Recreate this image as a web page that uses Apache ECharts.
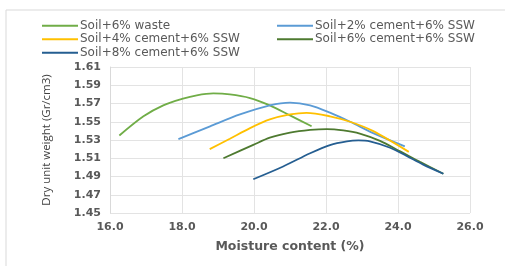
<!DOCTYPE html>
<html>
<head>
<meta charset="utf-8">
<script src="https://cdn.jsdelivr.net/npm/echarts@6/dist/echarts.min.js"></script>
<style>
html, body { margin: 0; padding: 0; background: #fff; }
#chart { width: 505px; height: 266px; }
</style>
</head>
<body>
<div id="chart"></div>
<script>
// moisture content (%) / dry unit weight (Gr/cm3)
var names = ["Soil+6% waste", "Soil+2% cement+6% SSW", "Soil+4% cement+6% SSW", "Soil+6% cement+6% SSW", "Soil+8% cement+6% SSW"];
var colors = ["#70ad47", "#5b9bd5", "#ffc000", "#4e7a30", "#255e91"];

var waste = [[16.26, 1.535], [16.93, 1.556], [17.48, 1.568], [18.0, 1.575], [18.41, 1.579], [18.87, 1.581],
    [19.33, 1.580], [19.89, 1.576], [20.44, 1.568], [21.0, 1.557], [21.6, 1.545]];
var cement2 = [[17.9, 1.531], [18.78, 1.545], [19.61, 1.558], [20.44, 1.568], [21.0, 1.571], [21.56, 1.568],
    [22.11, 1.560], [22.67, 1.550], [23.31, 1.5375], [24.19, 1.523]];
var cement4 = [[18.77, 1.520], [19.33, 1.5314], [19.89, 1.543], [20.44, 1.5525], [21.0, 1.558], [21.46, 1.5598],
    [22.11, 1.556], [22.67, 1.550], [23.3, 1.540], [24.3, 1.517]];
var cement6 = [[19.15, 1.510], [19.98, 1.5246], [20.44, 1.5325], [21.0, 1.538], [21.56, 1.541], [22.02, 1.542],
    [22.48, 1.5405], [22.94, 1.537], [23.5, 1.529], [24.06, 1.5175], [24.61, 1.506], [25.26, 1.493]];
var cement8 = [[19.98, 1.487], [20.81, 1.501], [21.56, 1.5155], [22.11, 1.5245], [22.58, 1.5285], [22.9, 1.5295],
    [23.22, 1.5285], [23.78, 1.5215], [24.24, 1.5125], [24.7, 1.503], [25.26, 1.493]];

var xTicks = { min: 16, max: 26, step: 2 };
var yTicks = { min: 1.45, max: 1.61, step: 0.02 };

var allData = [waste, cement2, cement4, cement6, cement8];

var chart = echarts.init(document.getElementById("chart"));

var labelStyle = { color: "#595959", fontFamily: "DejaVu Sans", fontSize: 11, fontWeight: "bold" };
var legendText = { color: "#595959", fontFamily: "DejaVu Sans", fontSize: 12, lineHeight: 13.5, padding: [0, 0, 0, -3] };

var option = {
    animation: false,
    backgroundColor: "#fff",
    graphic: [{
        type: "rect",
        shape: { x: 6, y: 10, width: 520, height: 280 },
        style: { fill: "none", stroke: "#d9d9d9", lineWidth: 1 }
    }],
    legend: [{
        data: [names[0], names[2], names[4]],
        orient: "vertical",
        left: 42,
        top: 19,
        padding: 0,
        itemWidth: 36,
        itemHeight: 2,
        itemGap: 0,
        icon: "rect",
        textStyle: legendText
    }, {
        data: [names[1], names[3]],
        orient: "vertical",
        left: 277,
        top: 19,
        padding: 0,
        itemWidth: 36,
        itemHeight: 2,
        itemGap: 0,
        icon: "rect",
        textStyle: legendText
    }],
    grid: { left: 110, right: 35, top: 67, bottom: 53 },
    xAxis: {
        type: "value",
        min: xTicks.min,
        max: xTicks.max,
        interval: xTicks.step,
        name: "Moisture content (%)",
        nameLocation: "middle",
        nameGap: 27,
        nameTextStyle: { color: "#595959", fontFamily: "DejaVu Sans", fontSize: 12.5, fontWeight: "bold" },
        axisLine: { show: false },
        axisTick: { show: false },
        axisLabel: Object.assign({ margin: 9, formatter: function (v) { return v.toFixed(1); } }, labelStyle),
        splitLine: { lineStyle: { color: "#e3e3e3" } }
    },
    yAxis: {
        type: "value",
        min: yTicks.min,
        max: yTicks.max,
        interval: yTicks.step,
        name: "Dry unit weight (Gr/cm3)",
        nameLocation: "middle",
        nameGap: 57,
        nameTextStyle: { color: "#404040", fontFamily: "Open Sans", fontSize: 11.5 },
        axisLine: { show: true, lineStyle: { color: "#d9d9d9" } },
        axisTick: { show: false },
        axisLabel: Object.assign({ margin: 9, formatter: function (v) { return v.toFixed(2); } }, labelStyle),
        splitLine: { lineStyle: { color: "#e3e3e3" } }
    },
    series: allData.map(function (d, i) {
        return {
            name: names[i],
            type: "line",
            data: d,
            smooth: 0.3,
            symbol: "none",
            lineStyle: { width: 1.8, color: colors[i] },
            itemStyle: { color: colors[i] }
        };
    })
};

chart.setOption(option);
</script>
</body>
</html>
